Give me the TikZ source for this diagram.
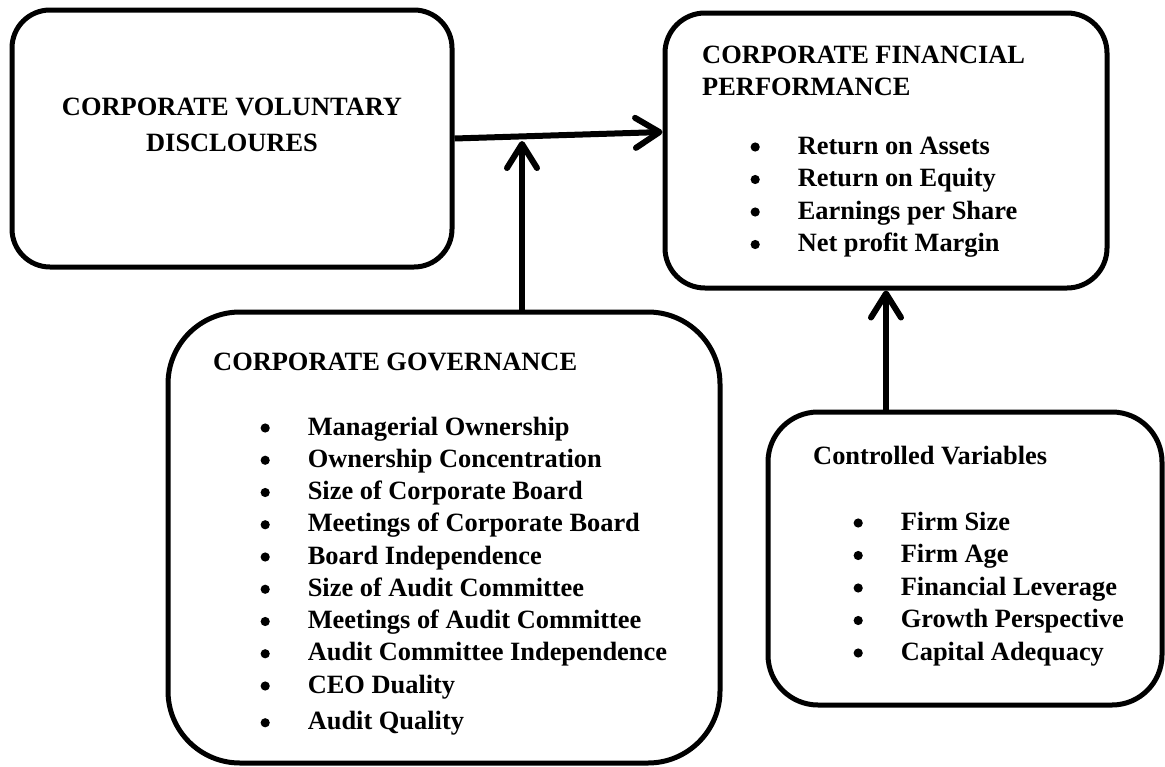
\documentclass[tikz,border=0pt]{standalone}
\usepackage{fontspec}
\setmainfont{Liberation Serif}
\usetikzlibrary{arrows.meta}

% bullet list and heading blocks, first baseline on the node base
\newcommand{\dotmark}{\tikz[baseline=-7pt]\fill (0,0) circle (4.6pt);}
\newcommand{\itemlist}[1]{\begin{tabular}[t]{@{}l@{\hspace{38pt}}l@{}}#1\end{tabular}}
\newcommand{\heading}[1]{\begin{tabular}[t]{@{}l@{}}#1\end{tabular}}

\begin{document}
\begin{tikzpicture}[x=1pt, y=-1pt,
    box/.style={draw, line width=5pt, rounded corners=#1, inner sep=0pt},
    box/.default=40pt,
    words/.style={font=\bfseries\fontsize{26.4}{32.5}\selectfont, inner sep=0pt, anchor=base west},
    link/.style={line width=6pt, -{Straight Barb[length=24pt, width=30pt, round]}}]
    \useasboundingbox (0,0) rectangle (1165,766);

    % the four boxes
    \node[box=38pt, minimum width=440pt, minimum height=257pt] (cvd) at (232,138.5) {};
    \node[box=40pt, minimum width=442pt, minimum height=275pt] (cfp) at (886,150.5) {};
    \node[box=72pt, minimum width=552pt, minimum height=451pt] (cg) at (444,537.5) {};
    \node[box=50pt, minimum width=394pt, minimum height=293pt] (cv) at (965,558.5) {};

    % texts
    \node[words, anchor=base, font=\bfseries\fontsize{26.4}{36}\selectfont] (cvdtitle) at (232,115)
        {\begin{tabular}[t]{@{}c@{}}CORPORATE VOLUNTARY\\DISCLOURES\end{tabular}};
    \node[words, font=\bfseries\fontsize{26.4}{32}\selectfont] (cfptitle) at (702,63)
        {\heading{CORPORATE FINANCIAL\\PERFORMANCE}};
    \node[words] (cfplist) at (750.4,154)
        {\itemlist{\dotmark & Return on Assets\\
                   \dotmark & Return on Equity\\
                   \dotmark & Earnings per Share\\
                   \dotmark & Net profit Margin}};
    \node[words] (cgtitle) at (213,370) {CORPORATE GOVERNANCE};
    \node[words, font=\bfseries\fontsize{26.4}{32.25}\selectfont] (cglist) at (260.4,435)
        {\itemlist{\dotmark & Managerial Ownership\\
                   \dotmark & Ownership Concentration\\
                   \dotmark & Size of Corporate Board\\
                   \dotmark & Meetings of Corporate Board\\
                   \dotmark & Board Independence\\
                   \dotmark & Size of Audit Committee\\
                   \dotmark & Meetings of Audit Committee\\
                   \dotmark & Audit Committee Independence\\
                   \dotmark & CEO Duality\\[4.5pt]
                   \dotmark & Audit Quality}};
    \node[words] (cvtitle) at (813,464) {Controlled Variables};
    \node[words] (cvlist) at (853.4,530)
        {\itemlist{\dotmark & Firm Size\\
                   \dotmark & Firm Age\\
                   \dotmark & Financial Leverage\\
                   \dotmark & Growth Perspective\\
                   \dotmark & Capital Adequacy}};

    % arrows
    \coordinate (meet) at (522,141);
    \draw[link] (cvd.east) -- ([yshift=18.5pt]cfp.west);
    \draw[link] (meet |- cg.north) -- (meet);
    \draw[link] (cfp.south |- cv.north) -- (cfp.south);
\end{tikzpicture}
\end{document}
